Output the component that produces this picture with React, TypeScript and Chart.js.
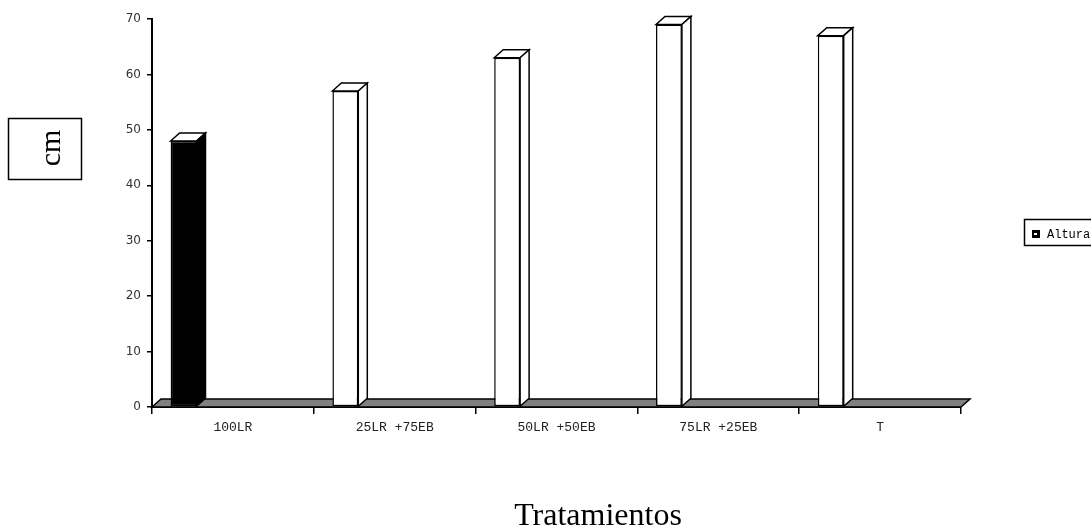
import React, { useEffect, useRef } from 'react';
import { Chart, registerables } from 'chart.js';

Chart.register(...registerables);

// Treatments on the category axis and plant height (cm) per treatment
const categories = ['100LR', '25LR +75EB', '50LR +50EB', '75LR +25EB', 'T'];
const alturaValues = [48, 57, 63, 69, 67];
const barFills = ['#000000', '#ffffff', '#ffffff', '#ffffff', '#ffffff'];
const yTickValues = [0, 10, 20, 30, 40, 50, 60, 70];
const seriesName = 'Altura';
const yUnitLabel = 'cm';
const xTitleText = 'Tratamientos';

// 3D extrusion of bars and floor
const DX = 9;
const DY = -8;
// bars sit near the start of each category slot
const SLOT_SHIFT = 0.195;

const poly = (ctx: CanvasRenderingContext2D, pts: number[][], fill: string) => {
  ctx.beginPath();
  ctx.moveTo(pts[0][0], pts[0][1]);
  for (let i = 1; i < pts.length; i++) ctx.lineTo(pts[i][0], pts[i][1]);
  ctx.closePath();
  ctx.fillStyle = fill;
  ctx.fill();
  ctx.stroke();
};

const floorPlugin = {
  id: 'floor3d',
  beforeDatasetsDraw(chart: any) {
    const { ctx } = chart;
    const xs = chart.scales.x;
    const y0 = chart.scales.y.getPixelForValue(0);
    ctx.save();
    ctx.strokeStyle = '#000';
    ctx.lineWidth = 1.5;
    poly(ctx, [[xs.left, y0], [xs.left + DX, y0 + DY], [xs.right + DX, y0 + DY], [xs.right, y0]], '#808080');
    ctx.restore();
  },
};

const barFacesPlugin = {
  id: 'barFaces3d',
  afterDatasetsDraw(chart: any) {
    const { ctx } = chart;
    const meta = chart.getDatasetMeta(0);
    ctx.save();
    ctx.strokeStyle = '#000';
    ctx.lineWidth = 1.5;
    ctx.lineJoin = 'miter';
    meta.data.forEach((bar: any, i: number) => {
      const { x, y, base, width } = bar.getProps(['x', 'y', 'base', 'width'], true);
      const x1 = x - width / 2;
      const x2 = x + width / 2;
      poly(ctx, [[x1, y], [x1 + DX, y + DY], [x2 + DX, y + DY], [x2, y]], '#ffffff');
      poly(ctx, [[x2, y], [x2 + DX, y + DY], [x2 + DX, base + DY], [x2, base]], barFills[i]);
    });
    ctx.restore();
  },
};

const decorPlugin = {
  id: 'decor',
  afterDraw(chart: any) {
    const { ctx } = chart;
    ctx.save();
    // unit box on the left
    ctx.strokeStyle = '#000';
    ctx.lineWidth = 1.5;
    ctx.strokeRect(8.5, 118.5, 73, 61);
    ctx.save();
    ctx.translate(60, 148);
    ctx.rotate(-Math.PI / 2);
    ctx.fillStyle = '#000';
    ctx.font = '30px "Liberation Serif", "Times New Roman", serif';
    ctx.textAlign = 'center';
    ctx.textBaseline = 'alphabetic';
    ctx.fillText(yUnitLabel, 0, 0);
    ctx.restore();

    // x axis title
    ctx.fillStyle = '#000';
    ctx.font = '32px "Liberation Serif", "Times New Roman", serif';
    ctx.textAlign = 'center';
    ctx.textBaseline = 'alphabetic';
    ctx.fillText(xTitleText, 598, 525);

    // legend
    ctx.strokeRect(1024.5, 219.5, 80, 26);
    ctx.fillStyle = '#000';
    ctx.fillRect(1032, 230, 8, 8);
    ctx.fillStyle = '#fff';
    ctx.fillRect(1034, 233, 3, 2);
    ctx.fillStyle = '#000';
    ctx.font = '12px "Liberation Mono", monospace';
    ctx.textAlign = 'left';
    ctx.fillText(seriesName, 1047, 238);
    ctx.restore();
  },
};

export default function App() {
  const canvasRef = useRef<HTMLCanvasElement | null>(null);

  useEffect(() => {
    if (!canvasRef.current) return;
    const chart = new Chart(canvasRef.current, {
      type: 'bar',
      data: {
        labels: categories,
        datasets: [
          {
            label: seriesName,
            xAxisID: 'xb',
            yAxisID: 'y',
            data: categories.map((_, i) => ({ x: i, y: alturaValues[i] })),
            backgroundColor: barFills,
            borderColor: '#000',
            borderWidth: 1.5,
            borderSkipped: false,
            categoryPercentage: 1,
            barPercentage: 0.16,
          } as any,
        ],
      },
      options: {
        animation: false,
        responsive: true,
        maintainAspectRatio: false,
        layout: { padding: { top: 19, right: 130, bottom: 0, left: 0 } },
        plugins: { legend: { display: false }, tooltip: { enabled: false } },
        scales: {
          x: {
            type: 'category',
            position: 'bottom',
            offset: true,
            grid: {
              display: true,
              offset: true,
              drawOnChartArea: false,
              drawTicks: true,
              tickLength: 7,
              color: '#000',
              lineWidth: 1.5,
            },
            border: { display: true, color: '#000', width: 2 },
            ticks: {
              color: '#222',
              font: { family: '"Liberation Mono", monospace', size: 13 },
              padding: 6,
              maxRotation: 0,
              autoSkip: false,
            },
            afterFit: (s: any) => {
              s.height = 124;
            },
          },
          xb: {
            type: 'linear',
            display: false,
            offset: false,
            grid: { offset: false },
            min: -SLOT_SHIFT,
            max: categories.length - SLOT_SHIFT,
            ticks: { stepSize: 1, includeBounds: false },
          },
          y: {
            type: 'linear',
            min: yTickValues[0],
            max: yTickValues[yTickValues.length - 1],
            afterBuildTicks: (s: any) => {
              s.ticks = yTickValues.map((v) => ({ value: v }));
            },
            grid: {
              display: true,
              drawOnChartArea: false,
              drawTicks: true,
              tickLength: 5,
              color: '#000',
              lineWidth: 1.5,
            },
            border: { display: true, color: '#000', width: 2 },
            ticks: {
              color: '#333',
              font: { family: '"DejaVu Sans", sans-serif', size: 12 },
              padding: 6,
            },
            afterFit: (s: any) => {
              s.width = 152;
            },
          },
        },
      },
      plugins: [floorPlugin, barFacesPlugin, decorPlugin],
    });
    return () => chart.destroy();
  }, []);

  return (
    <div style={{ position: 'absolute', left: 0, top: 0, width: 1091, height: 531, background: '#fff' }}>
      <canvas ref={canvasRef} />
    </div>
  );
}
